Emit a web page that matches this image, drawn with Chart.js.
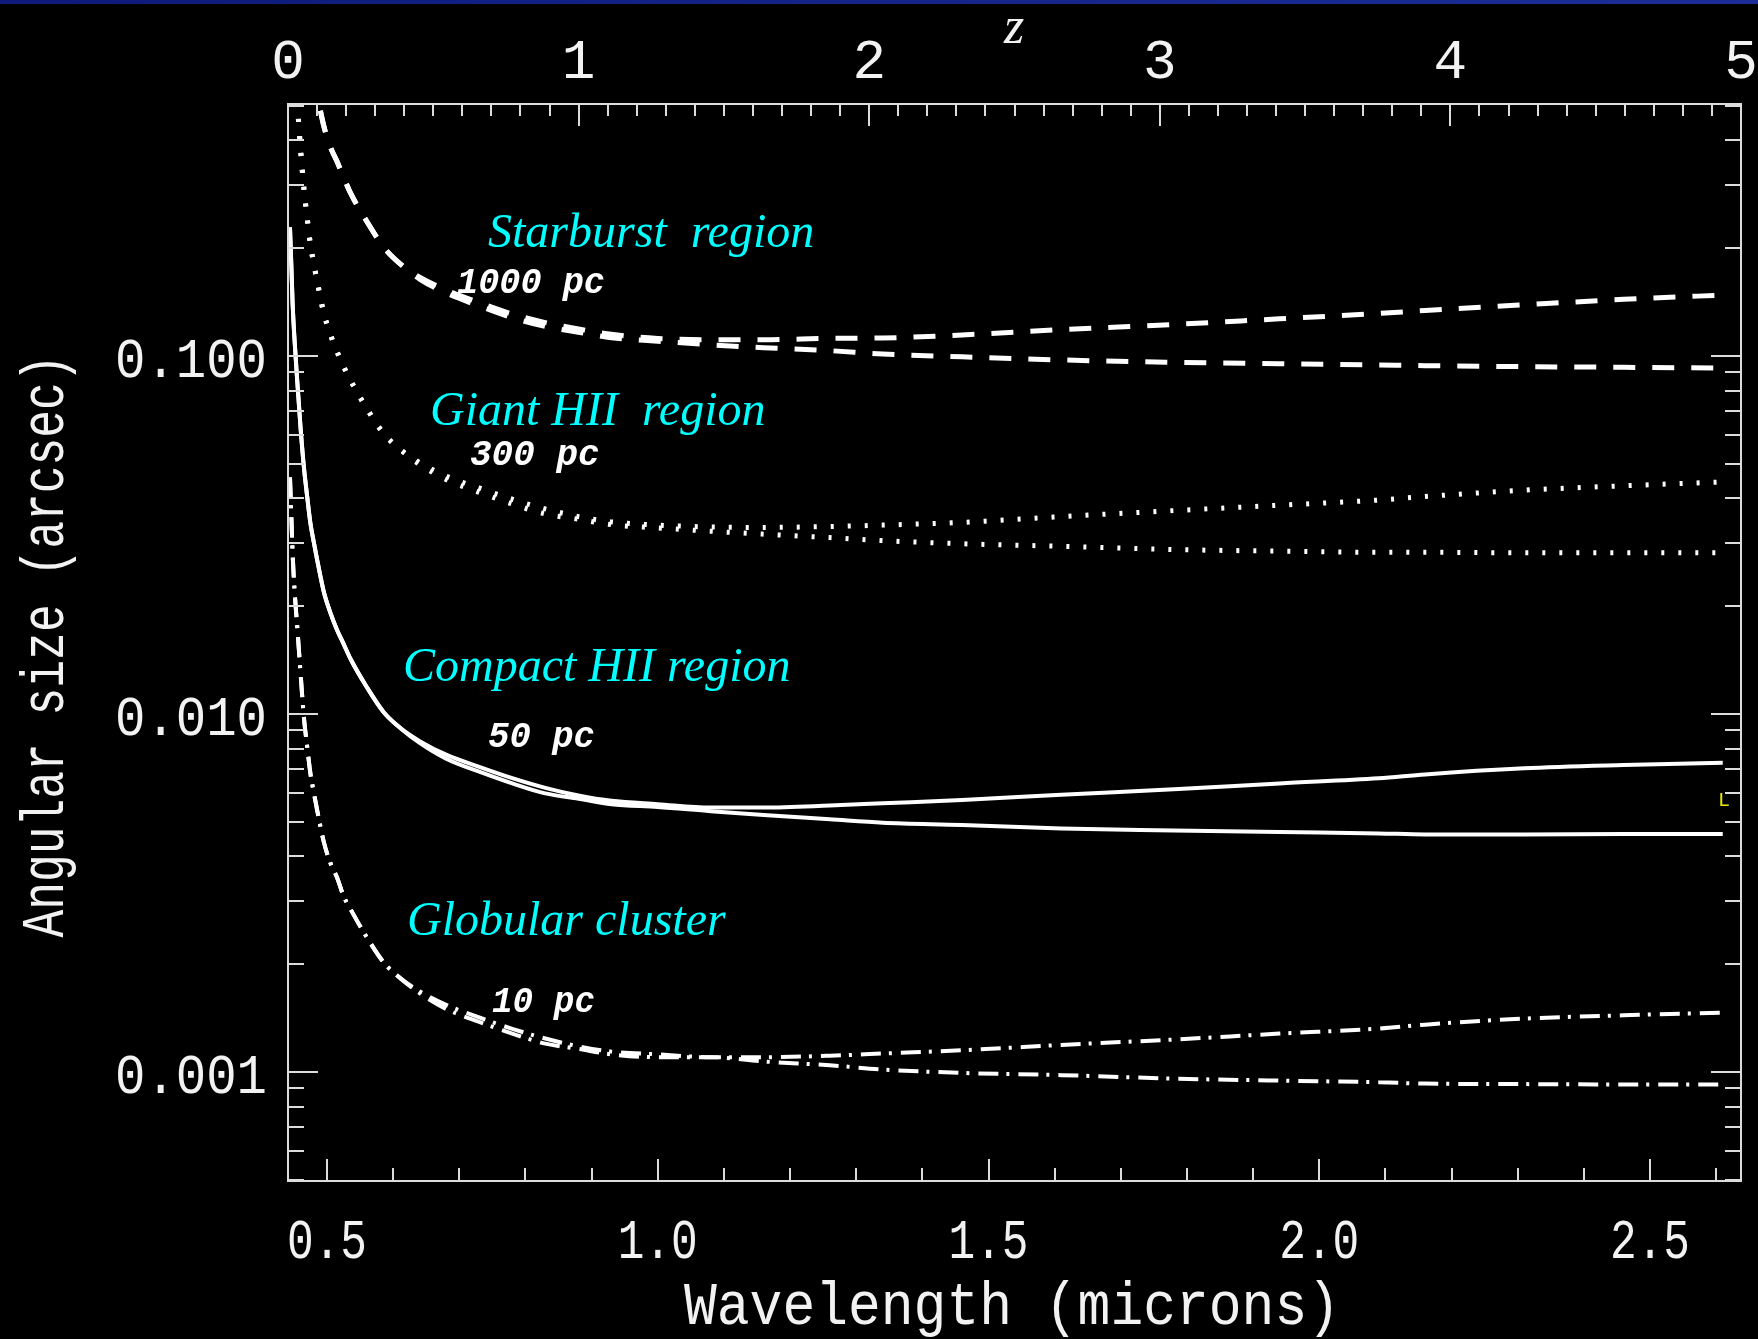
<!DOCTYPE html>
<html>
<head>
<meta charset="utf-8">
<title>Angular size vs wavelength</title>
<script src="https://cdn.jsdelivr.net/npm/chart.js@4.4.1/dist/chart.umd.min.js"></script>
<style>
  html, body { margin: 0; padding: 0; background: #000; }
  canvas { display: block; }
</style>
</head>
<body>
<canvas id="canvas" width="1758" height="1339"></canvas>
<script>
"use strict";

const wavelength = [
  0.444, 0.446, 0.448, 0.451, 0.455, 0.46, 0.465, 0.47, 0.475, 0.48,
  0.485, 0.495, 0.505, 0.515, 0.525, 0.536, 0.56, 0.586, 0.612, 0.64,
  0.68, 0.73, 0.78, 0.83, 0.88, 0.93, 1.0, 1.08, 1.16, 1.26,
  1.34, 1.46, 1.61, 1.78, 1.94, 2.09, 2.16, 2.31, 2.46, 2.61,
];

// angular size (arcsec), two curves per object: one turns up at high z, one flattens
const starburstHigh = [
  4.58, 3.6, 2.8, 2.2, 1.7, 1.26, 0.98, 0.81, 0.68, 0.604,
  0.54, 0.44, 0.384, 0.35, 0.316, 0.284, 0.238, 0.201, 0.18, 0.166,
  0.153, 0.141, 0.131, 0.124, 0.119, 0.115, 0.112, 0.111, 0.111, 0.112,
  0.1123, 0.1145, 0.1185, 0.1225, 0.127, 0.1315, 0.134, 0.139, 0.144, 0.148,
];
const starburstLow = [
  4.58, 3.6, 2.8, 2.2, 1.7, 1.26, 0.98, 0.81, 0.68, 0.604,
  0.54, 0.44, 0.384, 0.35, 0.316, 0.284, 0.238, 0.201, 0.18, 0.164,
  0.15, 0.138, 0.128, 0.121, 0.1165, 0.1125, 0.11, 0.1075, 0.1055, 0.1035,
  0.1013, 0.0995, 0.0975, 0.096, 0.0952, 0.0944, 0.094, 0.0934, 0.093, 0.0926,
];
const giantHigh = [
  1.37, 1.08, 0.84, 0.66, 0.51, 0.378, 0.294, 0.243, 0.204, 0.181,
  0.162, 0.132, 0.115, 0.103, 0.0935, 0.0852, 0.0714, 0.0606, 0.0546, 0.0504,
  0.0462, 0.0428, 0.0398, 0.0374, 0.0356, 0.0344, 0.0337, 0.0333, 0.0332, 0.0334,
  0.0337, 0.0343, 0.0356, 0.037, 0.0383, 0.0396, 0.0405, 0.0422, 0.0434, 0.0445,
];
const giantLow = [
  1.37, 1.08, 0.84, 0.66, 0.51, 0.378, 0.294, 0.243, 0.204, 0.181,
  0.162, 0.132, 0.115, 0.103, 0.0935, 0.0852, 0.0714, 0.0606, 0.0546, 0.0498,
  0.0452, 0.0416, 0.0386, 0.0362, 0.035, 0.0338, 0.0331, 0.0324, 0.0318, 0.0311,
  0.0305, 0.0299, 0.0294, 0.0288, 0.0285, 0.0283, 0.0283, 0.0282, 0.0282, 0.0282,
];
const compactHigh = [
  0.229, 0.18, 0.14, 0.11, 0.085, 0.063, 0.049, 0.0405, 0.034, 0.0302,
  0.027, 0.022, 0.0192, 0.0172, 0.0157, 0.0142, 0.0119, 0.0101, 0.0091, 0.0084,
  0.0077, 0.00712, 0.00662, 0.00622, 0.00592, 0.00572, 0.0056, 0.00548, 0.00548, 0.00555,
  0.00563, 0.00575, 0.00595, 0.00616, 0.0064, 0.00661, 0.00678, 0.00705, 0.0072, 0.00731,
];
const compactLow = [
  0.229, 0.18, 0.14, 0.11, 0.085, 0.063, 0.049, 0.0405, 0.034, 0.0302,
  0.027, 0.022, 0.0192, 0.0172, 0.0157, 0.0142, 0.0119, 0.0101, 0.0091, 0.0083,
  0.0075, 0.0069, 0.0064, 0.006, 0.0058, 0.0056, 0.0055, 0.00535, 0.00522, 0.00508,
  0.00497, 0.0049, 0.00479, 0.00473, 0.00468, 0.00464, 0.00461, 0.00461, 0.00462, 0.00462,
];
const globularHigh = [
  0.0458, 0.036, 0.028, 0.022, 0.0175, 0.013, 0.0098, 0.0081, 0.0068, 0.00604,
  0.0054, 0.0044, 0.00384, 0.0035, 0.0031, 0.00284, 0.00238, 0.00202, 0.00182, 0.00168,
  0.00154, 0.00142, 0.00132, 0.00124, 0.00118, 0.00114, 0.00112, 0.0011, 0.0011, 0.00111,
  0.001126, 0.00115, 0.00119, 0.001232, 0.00128, 0.001322, 0.001356, 0.00141, 0.00144, 0.001465,
];
const globularLow = [
  0.0458, 0.036, 0.028, 0.022, 0.0175, 0.013, 0.0098, 0.0081, 0.0068, 0.00604,
  0.0054, 0.0044, 0.00384, 0.0035, 0.0031, 0.00284, 0.00238, 0.00202, 0.00182, 0.00166,
  0.0015, 0.00138, 0.00128, 0.0012, 0.00116, 0.00112, 0.0011, 0.0011, 0.00107, 0.001044,
  0.001016, 0.000994, 0.00098, 0.000958, 0.000946, 0.000936, 0.000928, 0.000925, 0.000923, 0.000923,
];

// axis ticks and labels
const wavelengthTicks = [0.5, 1.0, 1.5, 2.0, 2.5];
const wavelengthLabels = ["0.5", "1.0", "1.5", "2.0", "2.5"];
const redshiftTicks = [0, 1, 2, 3, 4, 5];
const redshiftLabels = ["0", "1", "2", "3", "4", "5"];
const angleTicks = [0.1, 0.01, 0.001];
const angleLabels = ["0.100", "0.010", "0.001"];

const regionNames = ["Starburst  region", "Giant HII  region", "Compact HII region", "Globular cluster"];
const sizeLabels = ["1000 pc", "300 pc", "50 pc", "10 pc"];

const AXIS_COLOR = "#dcdcdc";
const MONO = '"Liberation Mono", "DejaVu Sans Mono", monospace';
const SERIF = '"Liberation Serif", "DejaVu Serif", serif';

const canvas = document.getElementById("canvas");
const ctx = canvas.getContext("2d");

const curve = (label, values, dash, width) => ({
  label: label,
  data: wavelength.map((w, i) => ({ x: w, y: values[i] })),
  borderColor: "#ffffff",
  borderWidth: width,
  borderDash: dash,
  borderCapStyle: "butt",
  pointRadius: 0,
  fill: false,
  cubicInterpolationMode: "monotone",
});

const DASH = [22, 17];
const DOTS = [3, 14];
const DASH_DOT = [20, 8, 3, 9];

const backdrop = {
  id: "backdrop",
  beforeDraw(chart) {
    const { ctx, width, height } = chart;
    ctx.save();
    ctx.fillStyle = "#000000";
    ctx.fillRect(0, 0, width, height);
    const g = ctx.createLinearGradient(0, 0, width, 0);
    g.addColorStop(0, "#0d1a7a");
    g.addColorStop(1, "#1b2d98");
    ctx.fillStyle = g;
    ctx.fillRect(0, 0, width, 4);
    ctx.restore();
  },
};

const line = (c, x1, y1, x2, y2) => {
  c.beginPath();
  c.moveTo(x1, y1);
  c.lineTo(x2, y2);
  c.stroke();
};

// frame with inward ticks (pgplot style)
const frame = {
  id: "frame",
  afterDatasetsDraw(chart) {
    const { ctx, chartArea: a, scales } = chart;
    const xs = scales.x, zs = scales.z, ys = scales.y;
    ctx.save();
    ctx.strokeStyle = AXIS_COLOR;
    ctx.lineWidth = 2;
    ctx.strokeRect(a.left, a.top, a.right - a.left, a.bottom - a.top);

    // bottom: wavelength, every 0.1 micron
    for (let k = 5; k <= 26; k++) {
      const px = Math.round(xs.getPixelForValue(k / 10));
      line(ctx, px, a.bottom, px, a.bottom - (k % 5 === 0 ? 22 : 13));
    }
    // top: redshift, every 0.1
    for (let k = 0; k <= 50; k++) {
      const px = Math.round(zs.getPixelForValue(k / 10));
      line(ctx, px, a.top, px, a.top + (k % 10 === 0 ? 22 : 12));
    }
    // left and right: log decades
    for (let d = -4; d <= 0; d++) {
      for (let m = 1; m <= 9; m++) {
        const v = m * Math.pow(10, d);
        if (v < ys.min || v > ys.max) continue;
        const py = Math.round(ys.getPixelForValue(v));
        const len = m === 1 ? 30 : 16;
        line(ctx, a.left, py, a.left + len, py);
        line(ctx, a.right, py, a.right - len, py);
      }
    }
    ctx.restore();
  },
};

const labels = {
  id: "labels",
  afterDraw(chart) {
    const { ctx, chartArea: a, scales } = chart;
    const xs = scales.x, zs = scales.z, ys = scales.y;
    ctx.save();
    ctx.fillStyle = "#f2f2f2";
    ctx.textBaseline = "alphabetic";

    ctx.font = "56px " + MONO;
    ctx.textAlign = "center";
    wavelengthTicks.forEach((v, i) => {
      ctx.fillText(wavelengthLabels[i], xs.getPixelForValue(v), a.bottom + 77, 80);
    });
    redshiftTicks.forEach((v, i) => {
      ctx.fillText(redshiftLabels[i], zs.getPixelForValue(v), a.top - 26);
    });
    ctx.textAlign = "right";
    angleTicks.forEach((v, i) => {
      ctx.fillText(angleLabels[i], a.left - 21, ys.getPixelForValue(v) + 21, 152);
    });

    // axis titles
    ctx.font = "62px " + MONO;
    ctx.textAlign = "center";
    ctx.fillText("Wavelength (microns)", 1012, 1324, 656);
    ctx.save();
    ctx.translate(63, 646);
    ctx.rotate(-Math.PI / 2);
    ctx.fillText("Angular size (arcsec)", 0, 0, 583);
    ctx.restore();

    ctx.font = "italic 52px " + SERIF;
    ctx.fillText("z", 1014, 43);

    // object names
    ctx.textAlign = "left";
    ctx.fillStyle = "#00ffff";
    ctx.font = "italic 48px " + SERIF;
    ctx.fillText(regionNames[0], 488, 247);
    ctx.fillText(regionNames[1], 430, 425);
    ctx.fillText(regionNames[2], 403, 681);
    ctx.fillText(regionNames[3], 407, 935);

    // physical sizes
    ctx.fillStyle = "#ffffff";
    ctx.font = "italic bold 36px " + MONO;
    ctx.fillText(sizeLabels[0], 457, 293, 148);
    ctx.fillText(sizeLabels[1], 470, 465, 132);
    ctx.fillText(sizeLabels[2], 488, 747, 107);
    ctx.fillText(sizeLabels[3], 492, 1012, 103);

    ctx.fillStyle = "#e6e600";
    ctx.font = "20px " + MONO;
    ctx.fillText("L", 1718, 806);
    ctx.restore();
  },
};

const config = {
  type: "line",
  data: {
    datasets: [
      curve("Starburst region 1000 pc (a)", starburstHigh, DASH, 5),
      curve("Starburst region 1000 pc (b)", starburstLow, DASH, 5),
      curve("Giant HII region 300 pc (a)", giantHigh, DOTS, 5),
      curve("Giant HII region 300 pc (b)", giantLow, DOTS, 5),
      curve("Compact HII region 50 pc (a)", compactHigh, [], 4),
      curve("Compact HII region 50 pc (b)", compactLow, [], 4),
      curve("Globular cluster 10 pc (a)", globularHigh, DASH_DOT, 4),
      curve("Globular cluster 10 pc (b)", globularLow, DASH_DOT, 4),
    ],
  },
  plugins: [backdrop, frame, labels],
  options: {
    responsive: false,
    animation: false,
    events: [],
    layout: {
      padding: { left: 288, top: 104, right: 17, bottom: 158 },
    },
    plugins: {
      legend: { display: false },
      tooltip: { enabled: false },
    },
    scales: {
      x: { type: "linear", min: 0.441, max: 2.6376, display: false },
      z: { type: "linear", axis: "x", position: "top", min: 0, max: 5, display: false },
      y: { type: "logarithmic", min: 0.000496, max: 0.5058, display: false },
    },
  },
};

const angularChart = new Chart(ctx, config);
</script>
</body>
</html>
